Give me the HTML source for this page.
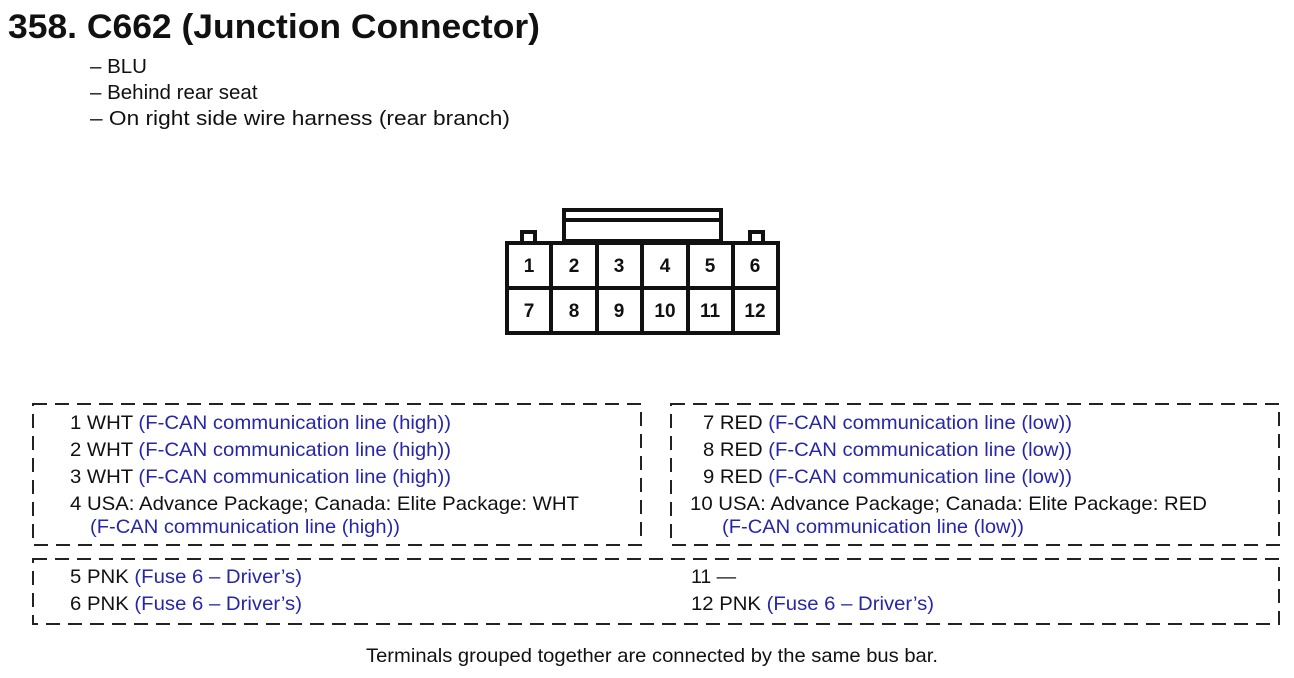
<!DOCTYPE html>
<html><head><meta charset="utf-8"><style>
html,body{margin:0;padding:0;background:#fff;}
svg{display:block;font-family:"Liberation Sans",Arial,sans-serif;}
.t{font-size:19.5px;fill:#111;}
.b{fill:#2626a8;}
</style></head><body>
<svg width="1294" height="678" viewBox="0 0 1294 678" xmlns="http://www.w3.org/2000/svg">
<text x="8" y="38" font-size="34" font-weight="bold" fill="#111" textLength="532" lengthAdjust="spacingAndGlyphs">358. C662 (Junction Connector)</text>
<text x="90" y="73" font-size="20.5" fill="#111">– BLU</text>
<text x="90" y="99" font-size="20.5" fill="#111">– Behind rear seat</text>
<text x="90" y="125" font-size="20.5" fill="#111" textLength="420" lengthAdjust="spacingAndGlyphs">– On right side wire harness (rear branch)</text>

<g fill="none" stroke="#111" stroke-width="4">
<rect x="564" y="210" width="157" height="31"/>
<line x1="564" y1="220" x2="721" y2="220"/>
<path d="M507 243 H522 V232 H535 V243 M750 243 V232 H763 V243 H778"/>
<rect x="507" y="243" width="271" height="90"/>
<line x1="507" y1="288" x2="778" y2="288"/>
<line x1="551" y1="243" x2="551" y2="333"/>
<line x1="597" y1="243" x2="597" y2="333"/>
<line x1="642" y1="243" x2="642" y2="333"/>
<line x1="688" y1="243" x2="688" y2="333"/>
<line x1="733" y1="243" x2="733" y2="333"/>
</g>
<g font-size="19" font-weight="bold" fill="#111" text-anchor="middle">
<text x="529" y="272">1</text><text x="574" y="272">2</text><text x="619" y="272">3</text><text x="665" y="272">4</text><text x="710" y="272">5</text><text x="755" y="272">6</text>
<text x="529" y="317">7</text><text x="574" y="317">8</text><text x="619" y="317">9</text><text x="665" y="317">10</text><text x="710" y="317">11</text><text x="755" y="317">12</text>
</g>

<g fill="none" stroke="#222" stroke-width="2" stroke-dasharray="14 8">
<rect x="33" y="404" width="608" height="141"/>
<rect x="671" y="404" width="608" height="141"/>
<rect x="33" y="559" width="1246" height="65"/>
</g>

<g class="t">
<text x="70" y="429" textLength="381" lengthAdjust="spacingAndGlyphs">1 WHT <tspan class="b">(F-CAN communication line (high))</tspan></text>
<text x="70" y="456" textLength="381" lengthAdjust="spacingAndGlyphs">2 WHT <tspan class="b">(F-CAN communication line (high))</tspan></text>
<text x="70" y="483" textLength="381" lengthAdjust="spacingAndGlyphs">3 WHT <tspan class="b">(F-CAN communication line (high))</tspan></text>
<text x="70" y="510" textLength="509" lengthAdjust="spacingAndGlyphs">4 USA: Advance Package; Canada: Elite Package: WHT</text>
<text x="90" y="533" class="b" textLength="310" lengthAdjust="spacingAndGlyphs">(F-CAN communication line (high))</text>

<text x="703" y="429" textLength="369" lengthAdjust="spacingAndGlyphs">7 RED <tspan class="b">(F-CAN communication line (low))</tspan></text>
<text x="703" y="456" textLength="369" lengthAdjust="spacingAndGlyphs">8 RED <tspan class="b">(F-CAN communication line (low))</tspan></text>
<text x="703" y="483" textLength="369" lengthAdjust="spacingAndGlyphs">9 RED <tspan class="b">(F-CAN communication line (low))</tspan></text>
<text x="690" y="510" textLength="517" lengthAdjust="spacingAndGlyphs">10 USA: Advance Package; Canada: Elite Package: RED</text>
<text x="722" y="533" class="b" textLength="302" lengthAdjust="spacingAndGlyphs">(F-CAN communication line (low))</text>

<text x="70" y="583" textLength="232" lengthAdjust="spacingAndGlyphs">5 PNK <tspan class="b">(Fuse 6 – Driver’s)</tspan></text>
<text x="70" y="610" textLength="232" lengthAdjust="spacingAndGlyphs">6 PNK <tspan class="b">(Fuse 6 – Driver’s)</tspan></text>
<text x="691" y="583">11 —</text>
<text x="691" y="610" textLength="243" lengthAdjust="spacingAndGlyphs">12 PNK <tspan class="b">(Fuse 6 – Driver’s)</tspan></text>

<text x="366" y="662" textLength="572" lengthAdjust="spacingAndGlyphs">Terminals grouped together are connected by the same bus bar.</text>
</g>
</svg>
</body></html>
